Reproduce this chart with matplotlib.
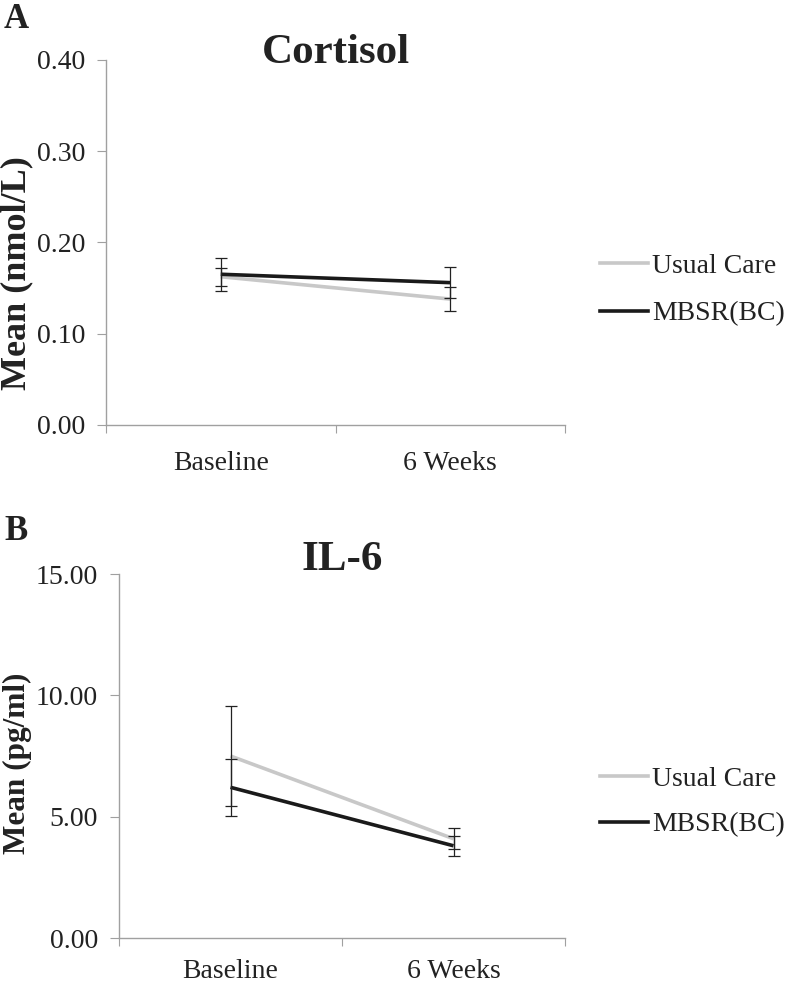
import matplotlib
matplotlib.use("Agg")
import matplotlib.pyplot as plt
from matplotlib.ticker import FixedLocator
from matplotlib.lines import Line2D

plt.rcParams['font.family'] = ['Liberation Serif', 'DejaVu Serif']

timepoints = ["Baseline", "6 Weeks"]
groups = ["Usual Care", "MBSR(BC)"]

cortisol_usual = [0.1625, 0.138]
cortisol_usual_err = [0.010, 0.0133]
cortisol_mbsr = [0.1652, 0.156]
cortisol_mbsr_err = [0.0182, 0.017]
cortisol_ticks = [0.0, 0.1, 0.2, 0.3, 0.4]

il6_usual = [7.50, 4.09]
il6_usual_err = [2.05, 0.44]
il6_mbsr = [6.21, 3.80]
il6_mbsr_err = [1.18, 0.41]
il6_ticks = [0.0, 5.0, 10.0, 15.0]

W, H = 786, 983
fig = plt.figure(figsize=(W / 100, H / 100), dpi=100)

colors = ["#c8c8c8", "#1a1a1a"]
axis_color = "#a0a0a0"
text_color = "#222222"


def panel(rect, usual, usual_err, mbsr, mbsr_err, ticks, fmt, title, title_y,
          ylabel, ylabel_y, ylabel_size, letter, letter_y, legend_y, legend_spacing, xpad):
    ax = fig.add_axes(rect)
    x = list(range(len(timepoints)))
    for vals, errs, c in [(usual, usual_err, colors[0]), (mbsr, mbsr_err, colors[1])]:
        ax.plot(x, vals, color=c, lw=2.6, solid_capstyle='butt', zorder=3)
        ax.errorbar(x, vals, yerr=errs, fmt='none', ecolor=text_color, elinewidth=0.9,
                    capsize=4, capthick=0.9, zorder=4)
    ax.set_xlim(-0.5, len(timepoints) - 0.5)
    ax.set_ylim(ticks[0], ticks[-1])
    ax.set_yticks(ticks)
    ax.set_yticklabels([fmt.format(t) for t in ticks])
    ax.set_xticks(x)
    ax.set_xticklabels(timepoints)
    ax.xaxis.set_minor_locator(FixedLocator([-0.5, 0.5, 1.5]))
    for s in ["top", "right"]:
        ax.spines[s].set_visible(False)
    for s in ["left", "bottom"]:
        ax.spines[s].set_color(axis_color)
        ax.spines[s].set_linewidth(1.0)
    ax.tick_params(axis='y', direction='out', length=6.5, width=0.8, color=axis_color,
                   labelsize=20, pad=8.5, labelcolor=text_color)
    ax.tick_params(axis='x', which='major', length=0, labelsize=20, pad=xpad, labelcolor=text_color)
    ax.tick_params(axis='x', which='minor', direction='out', length=5.5, width=0.8, color=axis_color)
    cx = rect[0] + rect[2] / 2
    fig.text(cx, 1 - title_y / H, title, ha='center', va='baseline', fontsize=31,
             fontweight='bold', color=text_color)
    fig.text(17 / W, 1 - ylabel_y / H, ylabel, rotation=90, ha='center', va='center',
             fontsize=ylabel_size, fontweight='bold', color=text_color)
    fig.text(4 / W, 1 - letter_y / H, letter, ha='left', va='center', fontsize=25,
             fontweight='bold', color=text_color)
    handles = [Line2D([0], [0], color=c, lw=2.6) for c in colors]
    fig.legend(handles, groups, loc='center left',
               bbox_to_anchor=(600 / W, 1 - legend_y / H), frameon=False,
               fontsize=20, handlelength=1.73, handletextpad=0.15,
               labelspacing=legend_spacing, borderpad=0, borderaxespad=0,
               labelcolor=text_color)
    return ax


panel([106 / W, 1 - 425 / H, 459 / W, 365 / H], cortisol_usual, cortisol_usual_err,
      cortisol_mbsr, cortisol_mbsr_err, cortisol_ticks, "{:.2f}", "Cortisol", 63,
      "Mean (nmol/L)", 273, 26, "A", 19, 290, 0.8, 19)
panel([119 / W, 1 - 938 / H, 446 / W, 364 / H], il6_usual, il6_usual_err,
      il6_mbsr, il6_mbsr_err, il6_ticks, "{:.2f}", "IL-6", 570,
      "Mean (pg/ml)", 763, 22.5, "B", 531, 802, 0.72, 15)

fig.savefig("out.png", dpi=100)
